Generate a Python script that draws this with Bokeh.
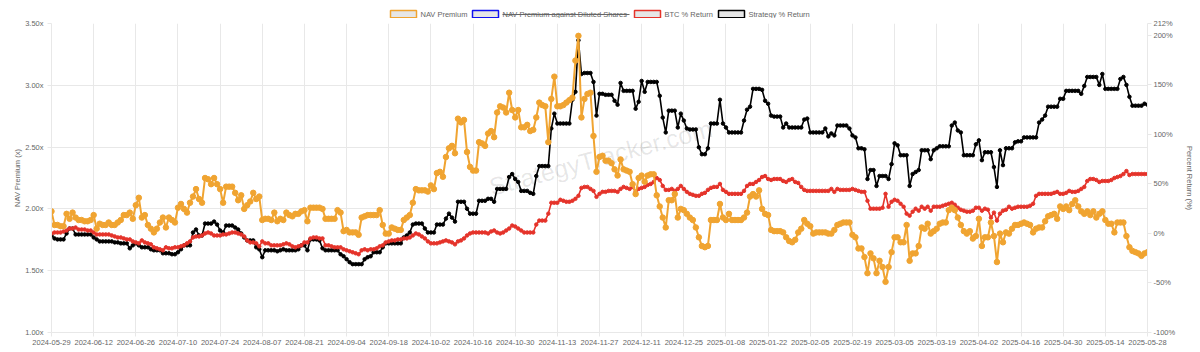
import pandas as pd
from bokeh.plotting import figure
from bokeh.models import (Range1d, LinearAxis, FixedTicker, PrintfTickFormatter,
                          DatetimeTickFormatter, Label)
from bokeh.layouts import column
from bokeh.core.properties import value
from bokeh.embed import file_html
from bokeh.resources import INLINE

start_date = "2024-05-29"

nav_premium = [
    1.98, 1.87, 1.87, 1.86, 1.86, 1.96, 1.92, 1.97, 1.93, 1.91, 1.91, 1.90, 1.90, 1.91,
    1.95, 1.84, 1.88, 1.87, 1.87, 1.89, 1.87, 1.87, 1.89, 1.91, 1.95, 1.95, 1.97, 1.92,
    2.03, 2.09, 1.93, 1.95, 1.87, 1.84, 1.81, 1.84, 1.89, 1.93, 1.85, 1.93, 1.91, 1.89,
    2.01, 2.04, 2.00, 1.97, 2.05, 2.10, 2.16, 2.08, 2.05, 2.25, 2.24, 2.20, 2.25, 2.20,
    2.16, 2.05, 2.18, 2.18, 2.18, 2.13, 2.07, 2.11, 2.00, 2.03, 2.06, 2.13, 2.08, 2.10,
    1.91, 1.92, 1.92, 1.91, 1.97, 1.90, 1.92, 1.91, 1.97, 1.95, 1.94, 1.96, 1.96, 1.98,
    1.99, 1.90, 2.01, 2.01, 2.01, 2.01, 2.00, 1.92, 1.92, 1.92, 1.92, 1.99, 1.97, 1.82,
    1.83, 1.81, 1.81, 1.81, 1.79, 1.93, 1.94, 1.95, 1.95, 1.95, 1.95, 1.99, 1.87, 1.80,
    1.80, 1.85, 1.84, 1.83, 1.83, 1.91, 1.93, 1.95, 2.05, 2.16, 2.15, 2.15, 2.15, 2.14,
    2.19, 2.16, 2.29, 2.30, 2.26, 2.42, 2.49, 2.51, 2.45, 2.73, 2.70, 2.72, 2.46, 2.34,
    2.31, 2.31, 2.54, 2.53, 2.51, 2.61, 2.63, 2.58, 2.78, 2.83, 2.82, 2.78, 2.94, 2.80,
    2.74, 2.80, 2.66, 2.66, 2.68, 2.63, 2.64, 2.74, 2.86, 2.84, 2.83, 2.54, 2.89, 3.07,
    2.83, 2.83, 2.84, 2.86, 2.88, 2.90, 3.20, 3.40, 2.74, 2.89, 2.93, 2.94, 2.59, 2.30,
    2.42, 2.43, 2.39, 2.39, 2.37, 2.32, 2.27, 2.40, 2.32, 2.31, 2.30, 2.20, 2.12, 2.25,
    2.27, 2.22, 2.27, 2.28, 2.28, 2.11, 2.02, 1.93, 1.85, 2.07, 2.07, 2.12, 1.93, 2.00,
    1.99, 1.96, 1.93, 1.91, 1.85, 1.77, 1.70, 1.69, 1.70, 1.91, 1.91, 1.91, 2.04, 1.93,
    1.91, 1.96, 1.91, 1.91, 1.91, 1.91, 1.93, 1.97, 2.10, 2.12, 2.10, 2.15, 2.00, 1.96,
    1.95, 1.83, 1.82, 1.82, 1.82, 1.81, 1.77, 1.74, 1.73, 1.75, 1.81, 1.84, 1.91, 1.88,
    1.86, 1.80, 1.81, 1.81, 1.81, 1.81, 1.80, 1.80, 1.83, 1.87, 1.88, 1.89, 1.89, 1.89,
    1.79, 1.77, 1.68, 1.68, 1.61, 1.48, 1.64, 1.60, 1.48, 1.58, 1.53, 1.41, 1.53, 1.65,
    1.77, 1.77, 1.73, 1.73, 1.87, 1.58, 1.64, 1.64, 1.70, 1.85, 1.84, 1.88, 1.80, 1.82,
    1.84, 1.88, 1.89, 1.89, 1.99, 2.01, 1.99, 1.93, 1.87, 1.82, 1.80, 1.82, 1.76, 1.78,
    1.92, 1.70, 1.77, 1.77, 1.89, 1.78, 1.57, 1.80, 1.73, 1.81, 1.80, 1.84, 1.87, 1.87,
    1.88, 1.89, 1.88, 1.87, 1.81, 1.84, 1.85, 1.85, 1.90, 1.94, 1.95, 1.96, 1.92, 2.02,
    2.00, 2.02, 1.99, 2.04, 2.07, 2.02, 1.98, 1.96, 1.98, 1.95, 1.98, 1.93, 1.96, 1.98,
    1.91, 1.88, 1.88, 1.81, 1.89, 1.89, 1.89, 1.78, 1.69, 1.66, 1.65, 1.64, 1.62, 1.64, 1.65,
]

btc_return = [
    0, 1, 1, 1, 2, 3, 5, 5, 6, 4, 4, 4, 3, 3,
    1, -1, -1, -1, -1, -1, -2, -3, -4, -4, -5, -6, -6, -8,
    -9, -10, -7, -9, -10, -11, -14, -15, -16, -17, -14, -15, -15, -14,
    -14, -13, -12, -10, -8, -4, -3, -3, -2, 0, 1, 0, -2, -2,
    -2, -1, -1, 0, 1, 1, 0, -1, -3, -7, -9, -9, -10, -13,
    -8, -10, -10, -12, -12, -12, -12, -11, -10, -11, -13, -14, -13, -12,
    -9, -9, -5, -4, -4, -5, -5, -12, -12, -13, -14, -14, -14, -16,
    -17, -18, -19, -20, -21, -17, -16, -17, -16, -16, -15, -13, -12, -9,
    -8, -7, -7, -6, -6, -5, -5, -4, -2, 0, -1, -3, -5, -8,
    -10, -10, -10, -9, -8, -7, -8, -9, -11, -8, -7, -5, -2, 0,
    1, 1, 1, 1, 1, 0, 2, 3, 1, 0, 1, 3, 5, 8,
    7, 5, 3, 1, 1, 1, 1, 9, 13, 13, 13, 20, 31, 31,
    31, 34, 33, 32, 32, 33, 35, 38, 46, 47, 47, 45, 43, 37,
    40, 42, 42, 43, 43, 43, 42, 45, 47, 46, 45, 47, 42, 45,
    46, 47, 49, 50, 52, 56, 54, 48, 44, 44, 45, 43, 45, 48,
    45, 42, 40, 39, 38, 38, 40, 41, 44, 46, 47, 47, 50, 44,
    42, 40, 40, 40, 40, 40, 43, 48, 50, 50, 52, 54, 57, 58,
    55, 54, 55, 55, 55, 53, 52, 54, 55, 52, 51, 47, 44, 43,
    43, 43, 43, 43, 43, 43, 43, 45, 42, 45, 44, 44, 44, 44,
    45, 44, 43, 42, 42, 33, 25, 25, 25, 25, 26, 40, 27, 32,
    34, 33, 30, 27, 20, 18, 22, 25, 23, 27, 25, 27, 23, 27,
    27, 27, 28, 29, 30, 31, 29, 26, 24, 23, 22, 22, 23, 26,
    26, 23, 25, 24, 16, 21, 13, 20, 23, 24, 27, 25, 26, 27,
    27, 27, 27, 28, 30, 38, 40, 40, 40, 40, 40, 41, 42, 40,
    40, 41, 43, 42, 42, 43, 45, 47, 53, 55, 55, 54, 52, 53,
    53, 53, 54, 56, 57, 58, 60, 63, 59, 60, 60, 60, 60, 60, 60,
]

strategy_return = [
    -2, -5, -6, -6, -6, 0, 5, 5, -1, -1, -1, -1, -1, -1,
    -4, -6, -8, -8, -8, -8, -8, -9, -9, -10, -10, -10, -15, -12,
    -10, -12, -14, -14, -14, -16, -17, -17, -17, -20, -20, -20, -21, -21,
    -19, -16, -12, -12, -12, 1, 4, -2, -2, 10, 10, 10, 12, 9,
    3, 1, 8, 8, 8, 6, 4, 0, -4, -7, -7, -7, -14, -16,
    -24, -17, -17, -17, -17, -18, -17, -16, -17, -17, -17, -17, -16, -12,
    -12, -17, -6, -6, -6, -7, -15, -17, -17, -17, -17, -17, -21, -23,
    -26, -29, -31, -31, -31, -31, -26, -24, -23, -19, -19, -19, -14, -10,
    -10, -10, -10, -10, -10, -4, -2, 1, 9, 10, 10, 10, 5, 1,
    1, 1, 9, 9, 9, 15, 20, 16, 12, 32, 32, 32, 25, 20,
    20, 20, 33, 33, 33, 35, 35, 32, 45, 45, 45, 45, 57, 60,
    55, 52, 43, 43, 43, 41, 40, 58, 68, 68, 68, 68, 106, 121,
    111, 111, 111, 111, 111, 135, 143, 195, 161, 162, 162, 162, 153, 119,
    141, 141, 140, 140, 140, 134, 130, 152, 144, 144, 144, 144, 126, 133,
    154, 143, 153, 153, 153, 153, 139, 117, 102, 124, 124, 124, 107, 121,
    114, 106, 105, 105, 105, 87, 80, 80, 86, 111, 111, 111, 135, 111,
    107, 102, 102, 102, 102, 102, 114, 125, 128, 146, 146, 146, 145, 134,
    131, 119, 118, 118, 118, 107, 111, 107, 107, 107, 107, 107, 115, 116,
    102, 102, 102, 102, 102, 106, 98, 101, 99, 109, 109, 109, 109, 106,
    99, 97, 86, 86, 85, 55, 64, 64, 48, 58, 58, 58, 55, 70,
    91, 89, 79, 79, 79, 48, 60, 62, 64, 84, 84, 84, 75, 84,
    86, 88, 88, 88, 88, 109, 112, 104, 102, 79, 79, 79, 79, 90,
    94, 74, 82, 82, 82, 67, 47, 84, 69, 86, 86, 86, 92, 93,
    93, 97, 97, 97, 97, 97, 112, 115, 119, 128, 128, 128, 128, 136,
    136, 144, 144, 144, 144, 144, 141, 149, 158, 158, 158, 158, 150, 161,
    146, 146, 146, 146, 146, 156, 158, 150, 138, 129, 129, 129, 129, 131, 130,
]

x_tick_labels = [
    "2024-05-29", "2024-06-12", "2024-06-26", "2024-07-10", "2024-07-24", "2024-08-07",
    "2024-08-21", "2024-09-04", "2024-09-18", "2024-10-02", "2024-10-16", "2024-10-30",
    "2024-11-13", "2024-11-27", "2024-12-11", "2024-12-25", "2025-01-08", "2025-01-22",
    "2025-02-05", "2025-02-19", "2025-03-05", "2025-03-19", "2025-04-02", "2025-04-16",
    "2025-04-30", "2025-05-14", "2025-05-28",
]
nav_ticks = [1.0, 1.5, 2.0, 2.5, 3.0, 3.5]
pct_ticks = [-100, -50, 0, 50, 100, 150, 200, 212]

legend_labels = ["NAV Premium", "NAV Premium against Diluted Shares", "BTC % Return", "Strategy % Return"]

ORANGE = "#f0a431"
RED = "#e5332a"
BLACK = "#000000"
BLUE = "#1010f0"
GRID = "#e8e8e8"
TXT = "#666666"
FONT = "Liberation Sans"


def dates_for(series):
    return pd.date_range(start_date, periods=len(series), freq="D")


d_nav = dates_for(nav_premium)
d_btc = dates_for(btc_return)
d_str = dates_for(strategy_return)

p = figure(width=1200, height=334, x_axis_type="datetime",
           x_range=Range1d(pd.Timestamp(x_tick_labels[0]), pd.Timestamp(x_tick_labels[-1])),
           y_range=Range1d(1.0, 3.5),
           output_backend="svg", toolbar_location=None,
           min_border_left=51, min_border_right=53, min_border_top=5, min_border_bottom=20)
p.extra_y_ranges = {"pct": Range1d(-100, 212)}
p.outline_line_color = None
p.background_fill_color = "white"
p.border_fill_color = "white"

xt = FixedTicker(ticks=[pd.Timestamp(t).value / 1e6 for t in x_tick_labels])
fmt = "%Y-%m-%d"
p.xaxis.ticker = xt
p.xaxis.formatter = DatetimeTickFormatter(milliseconds=fmt, seconds=fmt, minsec=fmt, minutes=fmt,
                                          hourmin=fmt, hours=fmt, days=fmt, months=fmt, years=fmt)
p.yaxis.ticker = FixedTicker(ticks=nav_ticks)
p.yaxis.formatter = PrintfTickFormatter(format="%.2fx")
p.yaxis.axis_label = "NAV Premium (x)"

right = LinearAxis(y_range_name="pct", ticker=FixedTicker(ticks=pct_ticks),
                   formatter=PrintfTickFormatter(format="%d%%"),
                   axis_label="Percent Return (%)")
p.add_layout(right, "right")

for ax in [p.xaxis[0], p.yaxis[0], right]:
    ax.major_label_text_font = FONT
    ax.major_label_text_font_size = "7.5px"
    ax.major_label_text_color = TXT
    ax.axis_label_text_font = FONT
    ax.axis_label_text_font_size = "7.5px"
    ax.axis_label_text_color = TXT
    ax.axis_label_text_font_style = "normal"
    ax.axis_line_color = GRID
    ax.major_tick_line_color = GRID
    ax.major_tick_out = 4
    ax.major_tick_in = 0
    ax.minor_tick_line_color = None

p.xaxis.major_label_standoff = 3
p.yaxis.major_label_standoff = 4
p.yaxis.axis_label_standoff = 0
right.major_label_standoff = 2
right.axis_label_standoff = 7

p.xgrid.grid_line_color = GRID
p.ygrid.grid_line_color = GRID
p.xgrid.ticker = xt

wm = Label(x=549, y=175, x_units="screen", y_units="screen", text="StrategyTracker.com",
           angle=15, angle_units="deg", text_align="center", text_baseline="middle",
           text_font=FONT, text_font_size="25px", text_color="#000000", text_alpha=0.1,
           level="underlay")
p.add_layout(wm)

p.line(d_str, strategy_return, line_color=BLACK, line_width=1.6, y_range_name="pct")
p.scatter(d_str, strategy_return, size=3.5, fill_color=BLACK, line_color=BLACK, y_range_name="pct")
p.line(d_btc, btc_return, line_color=RED, line_width=1.6, y_range_name="pct")
p.scatter(d_btc, btc_return, size=3.5, fill_color=RED, line_color=RED, y_range_name="pct")
p.line(d_nav, nav_premium, line_color=ORANGE, line_width=2)
p.scatter(d_nav, nav_premium, size=5.5, fill_color=ORANGE, line_color=ORANGE)

# legend strip (its frame is aligned with the main plot's frame: page x 51..1147)
lg = figure(width=1200, height=18, x_range=Range1d(51, 1147), y_range=Range1d(18, 0),
            x_axis_type=None, y_axis_type=None, output_backend="svg", toolbar_location=None,
            min_border_left=51, min_border_right=53, min_border_top=0, min_border_bottom=0)
lg.outline_line_color = None
lg.grid.visible = False
box_left = [390, 472, 634, 718]
box_colors = [ORANGE, BLUE, RED, BLACK]
lg.quad(left=box_left, right=[b + 26 for b in box_left], top=[10] * 4, bottom=[17.3] * 4,
        fill_color="#e6e6e6", line_color=box_colors, line_width=1.5)
lg.text(x=[b + 30 for b in box_left], y=[14] * 4, text=legend_labels,
        text_font=value(FONT), text_font_size="7.5px", text_color=TXT,
        text_align="left", text_baseline="middle")
lg.segment(x0=[502], y0=[14], x1=[629], y1=[14], line_color=TXT, line_width=1)

layout = column(lg, p)
open("out.html", "w").write(file_html(layout, INLINE))
